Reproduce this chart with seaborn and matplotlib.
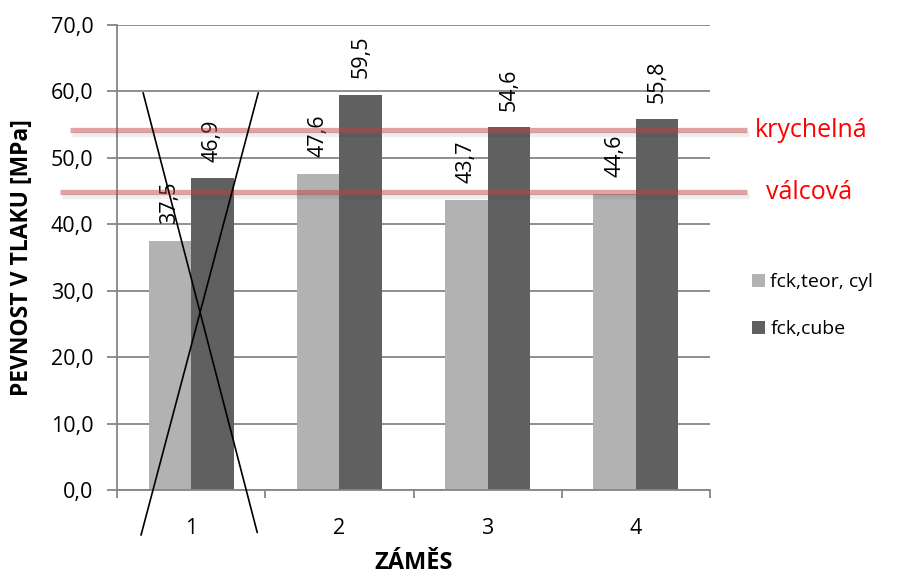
import matplotlib
matplotlib.use('Agg')
import matplotlib.pyplot as plt
import matplotlib.patheffects as pe
from matplotlib.patches import Patch
import seaborn as sns
import pandas as pd

# ---- data ----
categories = ['1', '2', '3', '4']
series_names = ['fck,teor, cyl', 'fck,cube']
cyl_values = [37.5, 47.6, 43.7, 44.6]
cube_values = [46.9, 59.5, 54.6, 55.8]
ref_names = ['krychelná', 'válcová']
ref_values = [54.15, 44.85]
y_ticks = [0, 10, 20, 30, 40, 50, 60, 70]
# crossed-out marker over category 1 (data coords: category index, MPa)
cross_x = [[-0.324, 0.446], [0.453, -0.338]]
cross_y = [[59.8, -6.4], [59.8, -6.8]]

# ---- styles ----
bar_colors = ['#b2b2b2', '#606060']
grid_color = '#868686'

sns.set_theme(style='white')
plt.rcParams['font.family'] = ['Open Sans', 'DejaVu Sans']
plt.rcParams['text.color'] = 'black'
plt.rcParams['axes.labelcolor'] = 'black'
plt.rcParams['xtick.labelcolor'] = 'black'
plt.rcParams['ytick.labelcolor'] = 'black'

df = pd.DataFrame({
    'cat': categories * 2,
    'value': cyl_values + cube_values,
    'series': [series_names[0]] * len(categories) + [series_names[1]] * len(categories),
})

fig = plt.figure(figsize=(9.04, 5.74), dpi=100)
ax = fig.add_axes([117 / 904, 1 - 490 / 574, (710 - 117) / 904, (490 - 25) / 574])

sns.barplot(data=df, x='cat', y='value', hue='series', hue_order=series_names,
            order=categories, palette=bar_colors, saturation=1, width=0.575,
            linewidth=0, legend=False, ax=ax, errorbar=None)

ax.set_xlim(-0.5, len(categories) - 0.5)
ax.set_ylim(0, 70)
ax.set_yticks(y_ticks)
ax.set_yticklabels([f'{v:.1f}'.replace('.', ',') for v in y_ticks], fontsize=15.5)
ax.yaxis.grid(True, color=grid_color, lw=1.3)
ax.set_axisbelow(True)
ax.tick_params(axis='y', direction='out', length=7, width=1.3, color=grid_color,
               pad=10, left=True, labelcolor='black')

# category boundaries as major ticks, labels at centers as minor ticks
ax.set_xticks([i - 0.5 for i in range(len(categories) + 1)])
ax.set_xticklabels([])
ax.set_xticks(range(len(categories)), minor=True)
ax.set_xticklabels(categories, minor=True, fontsize=15.5)
ax.tick_params(axis='x', which='major', direction='out', length=6, width=1.3,
               color=grid_color, bottom=True)
ax.tick_params(axis='x', which='minor', length=0, pad=20, labelcolor='black')
ax.set_xlabel('')
ax.set_ylabel('')

for s in ['top', 'right']:
    ax.spines[s].set_visible(False)
for s in ['left', 'bottom']:
    ax.spines[s].set_color(grid_color)
    ax.spines[s].set_linewidth(1.3)

# value labels
for cont, vals in zip(ax.containers, [cyl_values, cube_values]):
    ax.bar_label(cont, labels=[f'{v:.1f}'.replace('.', ',') for v in vals],
                 rotation=90, padding=12, fontsize=15.5, color='black')

# reference lines
ref_start = [-0.82, -0.885]
ref_end = 3.75
ref_label_x = [3.80, 3.875]
for v, x0, name, lx in zip(ref_values, ref_start, ref_names, ref_label_x):
    ax.plot([x0, ref_end], [v, v], color=(0.74, 0.25, 0.25), alpha=0.48, lw=3.8,
            clip_on=False, solid_capstyle='butt', zorder=5,
            path_effects=[pe.SimpleLineShadow(offset=(1.5, -2.5), alpha=0.07, shadow_color='k'),
                          pe.Normal()])
    ax.text(lx, v, name, color='red', fontsize=18, va='center', ha='left', clip_on=False)

# crossed-out lines
for xs, ys in zip(cross_x, cross_y):
    ax.plot(xs, ys, color='black', lw=1.2, clip_on=False, zorder=6)

# legend
handles = [Patch(facecolor=c, edgecolor='none') for c in bar_colors]
fig.legend(handles, series_names, loc='upper left', bbox_to_anchor=(752 / 904, 1 - 273 / 574),
           frameon=False, fontsize=14, handlelength=0.65, handleheight=0.65,
           handletextpad=0.3, labelspacing=1.5, borderpad=0, borderaxespad=0)

# axis titles
fig.text((117 + 710) / 2 / 904, 1 - 563 / 574, 'ZÁMĚS', ha='center', va='center',
         fontsize=17, fontweight='bold')
fig.text(22 / 904, 1 - 258 / 574, 'PEVNOST V TLAKU [MPa]', ha='center', va='center',
         rotation=90, fontsize=16.5, fontweight='bold')

fig.savefig('out.png', dpi=100)
